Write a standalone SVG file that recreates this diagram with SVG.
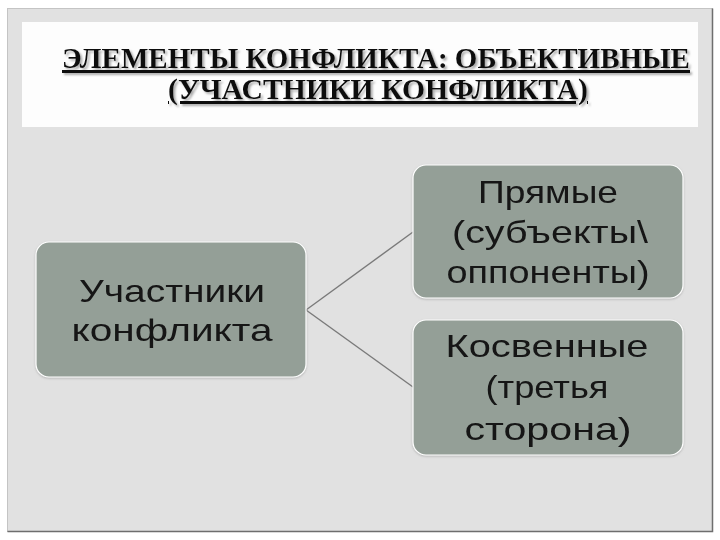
<svg xmlns="http://www.w3.org/2000/svg" width="720" height="540" viewBox="0 0 720 540">
  <defs>
    <filter id="tshadow" x="-5%" y="-20%" width="110%" height="150%">
      <feDropShadow dx="2" dy="2" stdDeviation="1.2" flood-color="#888" flood-opacity="0.7"/>
    </filter>
    <filter id="bshadow" x="-5%" y="-5%" width="110%" height="115%">
      <feDropShadow dx="0" dy="1" stdDeviation="1" flood-color="#999" flood-opacity="0.6"/>
    </filter>
  </defs>
  <style>
    .title { font-family: "Liberation Serif", "DejaVu Serif", serif; font-weight: bold; font-size: 30px; fill: #111; text-decoration: underline; }
    .box { fill: #949f97; stroke: #ffffff; stroke-width: 1.2; }
    .lbl { font-family: "Liberation Sans", "DejaVu Sans", sans-serif; font-size: 32px; fill: #151515; text-anchor: middle; }
    .conn { stroke: #7a7a7a; stroke-width: 1.4; fill: none; }
  </style>
  <rect x="0" y="0" width="720" height="540" fill="#ffffff"/>
  <rect x="7.5" y="8.5" width="705" height="523" fill="#e1e1e1" stroke="#c4c4c4" stroke-width="1"/>
  <path d="M712.5 8.5 V531.5 H7.5" fill="none" stroke="#6e6e6e" stroke-width="1.5"/>
  <rect x="22" y="22" width="676" height="105" fill="#fdfdfd"/>

  <g id="title" filter="url(#tshadow)">
    <text class="title" x="62" y="68" textLength="628" lengthAdjust="spacingAndGlyphs">ЭЛЕМЕНТЫ КОНФЛИКТА: ОБЪЕКТИВНЫЕ</text>
    <text class="title" x="168" y="99" textLength="420" lengthAdjust="spacingAndGlyphs">(УЧАСТНИКИ КОНФЛИКТА)</text>
  </g>

  <g id="connectors">
    <path class="conn" d="M306 310 L413 232"/>
    <path class="conn" d="M306 310 L413 387"/>
  </g>

  <g id="node-participants" filter="url(#bshadow)">
    <rect class="box" x="36" y="242" width="270" height="135" rx="13"/>
    <text class="lbl" x="172" y="302" textLength="186" lengthAdjust="spacingAndGlyphs">Участники</text>
    <text class="lbl" x="172" y="341" textLength="201" lengthAdjust="spacingAndGlyphs">конфликта</text>
  </g>

  <g id="node-direct" filter="url(#bshadow)">
    <rect class="box" x="413" y="165" width="270" height="133" rx="13"/>
    <text class="lbl" x="548" y="203" textLength="140" lengthAdjust="spacingAndGlyphs">Прямые</text>
    <text class="lbl" x="550" y="243" textLength="196" lengthAdjust="spacingAndGlyphs">(субъекты\</text>
    <text class="lbl" x="548" y="283" textLength="203" lengthAdjust="spacingAndGlyphs">оппоненты)</text>
  </g>

  <g id="node-indirect" filter="url(#bshadow)">
    <rect class="box" x="413" y="320" width="270" height="135" rx="13"/>
    <text class="lbl" x="547" y="357" textLength="203" lengthAdjust="spacingAndGlyphs">Косвенные</text>
    <text class="lbl" x="547" y="398" textLength="123" lengthAdjust="spacingAndGlyphs">(третья</text>
    <text class="lbl" x="548" y="440" textLength="167" lengthAdjust="spacingAndGlyphs">сторона)</text>
  </g>
</svg>
